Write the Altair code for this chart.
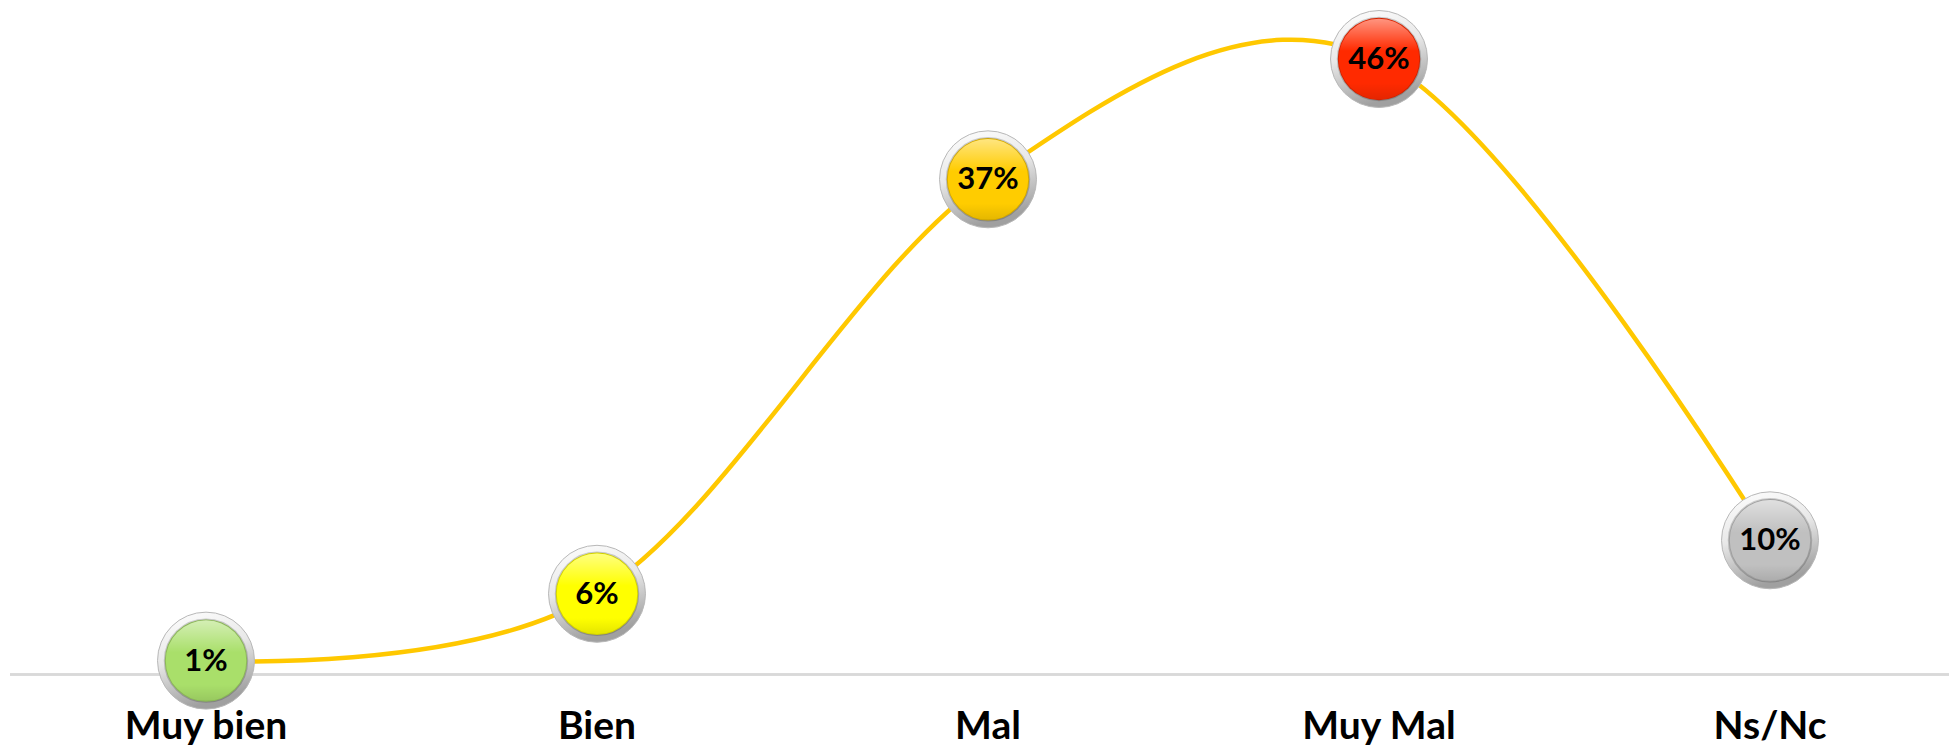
import altair as alt
import pandas as pd

categories = ["Muy bien", "Bien", "Mal", "Muy Mal", "Ns/Nc"]
values = [1, 6, 37, 46, 10]
labels = ["1%", "6%", "37%", "46%", "10%"]
colors = ["#A9DF6A", "#FFFF00", "#FFCC00", "#FF2A00", "#C0C0C0"]

df = pd.DataFrame({"cat": categories, "val": values, "lab": labels})

FONT = "Lato"
W, H = 1941, 739

x = alt.X("cat:N", sort=categories, axis=None,
          scale=alt.Scale(type="point", range=[198, 1762], padding=0))
y = alt.Y("val:Q", axis=None, scale=alt.Scale(domain=[0, 46], range=[666, 51], nice=False, zero=False))

base = alt.Chart(df)

baseline = base.mark_rule(color="#D9D9D9", strokeWidth=2).encode(
    x=alt.value(2), x2=alt.value(W), y=alt.value(666.5)
)

line = base.mark_line(color="#FFC800", strokeWidth=4.5, interpolate="cardinal").encode(x=x, y=y)

ring_grad = alt.Gradient(
    gradient="linear", x1=0, y1=0, x2=0.3, y2=1,
    stops=[alt.GradientStop(color="#FFFFFF", offset=0),
           alt.GradientStop(color="#E8E8E8", offset=0.5),
           alt.GradientStop(color="#A0A0A0", offset=1)],
)
ring = base.mark_point(shape="circle", filled=True, size=9400, fill=ring_grad,
                       stroke="#B8B8B8", strokeWidth=1, opacity=1).encode(x=x, y=y)

inner = base.mark_point(shape="circle", filled=True, size=6800, opacity=1,
                        stroke="rgba(0,0,0,0.18)", strokeWidth=2).encode(
    x=x, y=y,
    fill=alt.Fill("cat:N", scale=alt.Scale(domain=categories, range=colors), legend=None),
)

hl_grad = alt.Gradient(
    gradient="linear", x1=0, y1=0, x2=0, y2=1,
    stops=[alt.GradientStop(color="rgba(255,255,255,0.5)", offset=0),
           alt.GradientStop(color="rgba(255,255,255,0.0)", offset=0.4),
           alt.GradientStop(color="rgba(0,0,0,0.0)", offset=0.8),
           alt.GradientStop(color="rgba(0,0,0,0.10)", offset=1)],
)
highlight = base.mark_point(shape="circle", filled=True, size=6500, fill=hl_grad,
                            opacity=1, strokeWidth=0).encode(x=x, y=y)

pct = base.mark_text(font=FONT, fontSize=31, fontWeight="bold", color="#000000",
                     baseline="middle", align="center", dy=1).encode(x=x, y=y, text="lab:N")

cat_labels = base.mark_text(font=FONT, fontSize=39, fontWeight="bold", color="#000000",
                            baseline="alphabetic", align="center").encode(
    x=x, y=alt.value(731), text="cat:N")

chart = alt.layer(baseline, line, ring, inner, highlight, pct, cat_labels).properties(
    width=W, height=H, padding=0, autosize=alt.AutoSizeParams(type="none")
).configure(background="white", view=alt.ViewConfig(stroke=None))

chart.save("out.html", embed_options={"renderer": "svg", "actions": False})
